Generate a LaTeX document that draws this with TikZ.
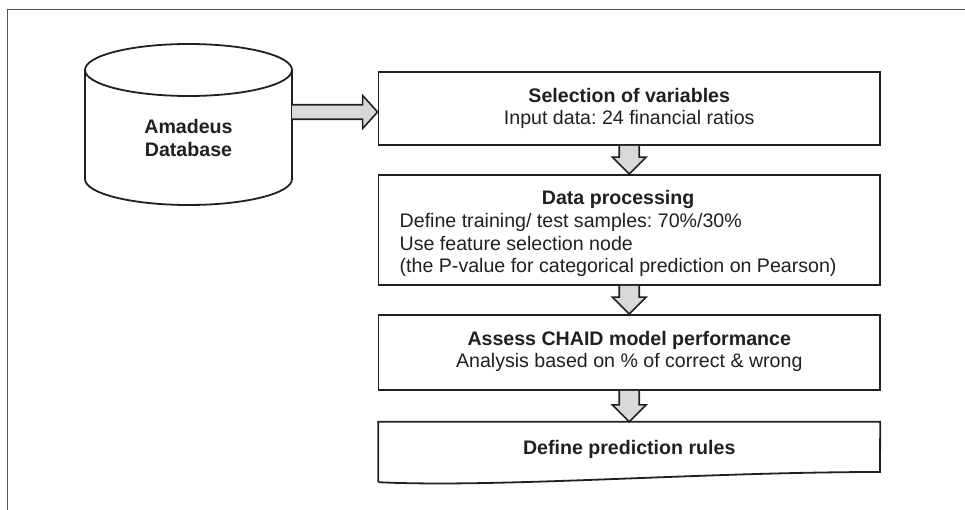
\documentclass[tikz,border=0pt]{standalone}
\usepackage{fontspec}
\setmainfont{Liberation Sans}
\usetikzlibrary{calc}
\frenchspacing
\definecolor{ink}{HTML}{231F20}
\definecolor{framec}{HTML}{555555}
\definecolor{fillg}{HTML}{D9D9D9}
\tikzset{
  box/.style={draw=ink, line width=1.8pt, minimum width=501.5pt, inner sep=0pt, fill=white},
  txt/.style={inner sep=0pt, text=ink, font=\fontsize{19.6pt}{22.7pt}\selectfont},
  fatarrow/.style={draw=ink, fill=fillg, line width=1.6pt, line join=miter},
  outline/.style={draw=ink, line width=1.8pt},
}
\newcommand\fatdown[2]{%
  \filldraw[fatarrow] let \p1=(#1), \p2=(#2) in
    ({\x1-10pt},{\y1}) -- ({\x1-10pt},{\y2+17pt}) -- ({\x1-17pt},{\y2+17pt}) --
    ({\x1},{\y2}) -- ({\x1+17pt},{\y2+17pt}) -- ({\x1+10pt},{\y2+17pt}) -- ({\x1+10pt},{\y1});}
\newcommand\fatright[2]{%
  \filldraw[fatarrow] let \p1=(#1), \p2=(#2) in
    ({\x1},{\y1+7.25pt}) -- ({\x2-15pt},{\y1+7.25pt}) -- ({\x2-15pt},{\y1+16.5pt}) --
    ({\x2},{\y1}) -- ({\x2-15pt},{\y1-16.5pt}) -- ({\x2-15pt},{\y1-7.25pt}) -- ({\x1},{\y1-7.25pt});}
\begin{document}
\begin{tikzpicture}[x=1pt,y=-1pt]
\useasboundingbox (0,0) rectangle (965,510);
% outer frame (open to the right and bottom)
\draw[framec, line width=1.3pt] (7.3,510) -- (7.3,9.3) -- (965,9.3);

% database cylinder
\draw[outline, fill=white] (85,70) -- (85,179) arc[start angle=180, end angle=360, x radius=103.5pt, y radius=26pt] -- (292,70);
\draw[outline] (188.5,70) ellipse[x radius=103.5pt, y radius=26pt];
\node[txt, anchor=base, font=\fontsize{19.6pt}{22.7pt}\selectfont\bfseries] (db) at (188.5,134)
  {\begin{tabular}[t]{@{}c@{}}Amadeus\\Database\end{tabular}};
\coordinate (dbout) at (292,112);

% process boxes
\node[box, minimum height=73pt] (b1) at (629.25,108.5) {};
\node[box, minimum height=110pt] (b2) at (629.25,230) {};
\node[box, minimum height=75pt] (b3) at (629.25,352.5) {};
\node[minimum width=501.5pt, minimum height=60pt, inner sep=0pt] (b4) at (629.25,452) {};
\draw[outline, line join=miter] (b4.south west) -- (b4.north west) -- (b4.north east) -- (880,472)
  .. controls (700,472) and (500,488) .. (b4.south west);

% texts
\node[txt, anchor=base] (t1) at (629.25,102.3)
  {\begin{tabular}[t]{@{}c@{}}\bfseries Selection of variables\\ Input data: 24 financial ratios\end{tabular}};
\node[txt, anchor=base west] (t2) at (399.5,204.7)
  {\begin{tabular}[t]{@{}l@{}}\multicolumn{1}{@{}c@{}}{\bfseries Data processing}\\
   Define training/ test samples: 70\%/30\%\\
   Use feature selection node\\
   (the P-value for categorical prediction on Pearson)\end{tabular}};
\node[txt, anchor=base] (t3) at (629.25,345)
  {\begin{tabular}[t]{@{}c@{}}\bfseries Assess CHAID model performance\\ Analysis based on \% of correct \& wrong\end{tabular}};
\node[txt, anchor=base, font=\fontsize{19.6pt}{22.7pt}\selectfont\bfseries] (t4) at (629.25,454.3)
  {Define prediction rules};

% connectors
\fatright{dbout}{b1.west}
\fatdown{b1.south}{b2.north}
\fatdown{b2.south}{b3.north}
\fatdown{b3.south}{b4.north}
\end{tikzpicture}
\end{document}
